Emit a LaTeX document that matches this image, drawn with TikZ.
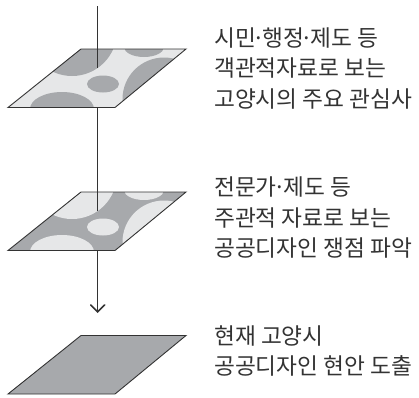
\documentclass[tikz,border=0pt]{standalone}
\usepackage{fontspec}
\newfontfamily\krfont{Noto Sans CJK KR}
\usetikzlibrary{arrows.meta}
\definecolor{dk}{HTML}{A7A9AC}
\definecolor{lt}{HTML}{E6E7E8}
\definecolor{ink}{HTML}{333333}
\definecolor{edgec}{HTML}{333333}
\newcommand{\md}{\hspace{-0.14em}·\hspace{-0.14em}}
\tikzset{
  planeedge/.style={draw=edgec, line width=0.9pt, line join=miter},
  axisline/.style={draw=ink, line width=1pt},
  lbl/.style={anchor=base west, inner sep=0pt, font=\krfont\fontsize{22.7}{30}\selectfont, text=ink},
}
\newcommand{\myplane}[3]{%
  \begin{scope}[shift={(0,#1)}]
    \fill[#2] (8,58.5) -- (115,58.5) -- (186,0) -- (81,0) -- cycle;
    \begin{scope}
      \clip (8,58.5) -- (115,58.5) -- (186,0) -- (81,0) -- cycle;
      \fill[#3] (72,-18) circle[radius=45];
      \fill[#3] (144,-2) ellipse[x radius=20, y radius=10];
      \fill[#3] (164,50) circle[radius=41.5];
      \fill[#3] (103,35) ellipse[x radius=16, y radius=8.5];
      \fill[#3] (62,60) ellipse[x radius=32, y radius=17];
    \end{scope}
    \draw[planeedge] (8,58.5) -- (115,58.5) -- (186,0) -- (81,0) -- cycle;
  \end{scope}}
\begin{document}
\begin{tikzpicture}[x=1pt,y=-1pt]
  \useasboundingbox (0,0) rectangle (419,397);
  \coordinate (top) at (97.7,6);
  \coordinate (tip) at (97.7,313);
  \coordinate (p1a) at (97.7,68);
  \coordinate (p2s) at (97.7,108);
  \coordinate (p2a) at (97.7,211);
  \draw[axisline, -{Straight Barb[length=7pt,width=14pt,line width=1.6pt,line cap=round]}] (top) -- (tip);
  \myplane{49}{lt}{dk}
  \myplane{192}{dk}{lt}
  \begin{scope}[shift={(0,335.5)}]
    \fill[dk] (8,58.5) -- (115,58.5) -- (186,0) -- (81,0) -- cycle;
    \draw[planeedge] (8,58.5) -- (115,58.5) -- (186,0) -- (81,0) -- cycle;
  \end{scope}
  \draw[axisline] (top) -- (p1a);
  \draw[axisline] (p2s) -- (p2a);
  \node[lbl] (a1) at (214,46) {시민\md 행정\md 제도 등};
  \node[lbl] (a2) at (214,76.5) {객관적자료로 보는};
  \node[lbl] (a3) at (214,107) {고양시의 주요 관심사};
  \node[lbl] (b1) at (214,195.5) {전문가\md 제도 등};
  \node[lbl] (b2) at (214,226) {주관적 자료로 보는};
  \node[lbl] (b3) at (214,256.5) {공공디자인 쟁점 파악};
  \node[lbl] (c1) at (214,344.5) {현재 고양시};
  \node[lbl] (c2) at (214,374) {공공디자인 현안 도출};
\end{tikzpicture}
\end{document}
